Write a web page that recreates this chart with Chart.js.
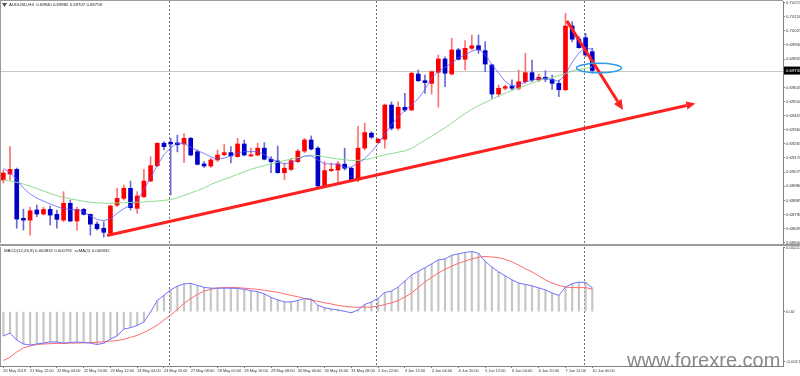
<!DOCTYPE html>
<html>
<head>
<meta charset="utf-8">
<title>AUDUSD H4</title>
<script src="https://cdn.jsdelivr.net/npm/chart.js"></script>
<style>
	html, body { margin: 0; padding: 0; background: #fff; }
	#wrap { position: relative; width: 800px; height: 376px; overflow: hidden; background: #fff; }
	#chart-price { position: absolute; left: 0; top: 0; }
	#sep { position: absolute; left: 0; top: 244px; width: 800px; height: 2px; background: #9c9c9c; }
	#chart-macd { position: absolute; left: 0; top: 246px; }
	#mark { position: absolute; left: 627px; top: 350px; font: 20px/20px 'Liberation Sans', Arial, sans-serif; color: rgba(115, 115, 115, 0.85); white-space: nowrap; }
</style>
</head>
<body>
<div id="wrap">
	<canvas id="chart-price" width="800" height="244"></canvas>
	<div id="sep"></div>
	<canvas id="chart-macd" width="800" height="130"></canvas>
	<div id="mark">www.forexre.com</div>
</div>
<script>
// AUDUSD H4, one entry per bar (20 May 2019 20:00 ... 10 Jun 2019 00:00)
const opens = [
	0.69022, 0.69062, 0.69093, 0.68764, 0.68752, 0.68820, 0.68793, 0.68824, 0.68791, 0.68752,
	0.68865, 0.68746, 0.68824, 0.68791, 0.68725, 0.68697, 0.68663, 0.68853, 0.68898, 0.68966,
	0.68831, 0.68909, 0.69015, 0.69118, 0.69269, 0.69275, 0.69271, 0.69264, 0.69302, 0.69212,
	0.69130, 0.69116, 0.69157, 0.69192, 0.69206, 0.69179, 0.69264, 0.69184, 0.69190, 0.69236,
	0.69162, 0.69150, 0.69071, 0.69093, 0.69145, 0.69216, 0.69291, 0.69236, 0.68977, 0.69085,
	0.69089, 0.69128, 0.69101, 0.69022, 0.69236, 0.69337, 0.69273, 0.69296, 0.69526, 0.69370,
	0.69511, 0.69493, 0.69735, 0.69690, 0.69672, 0.69746, 0.69836, 0.69735, 0.69897, 0.69834,
	0.69908, 0.69925, 0.69892, 0.69796, 0.69600, 0.69639, 0.69654, 0.69639, 0.69683, 0.69744,
	0.69695, 0.69713, 0.69699, 0.69672, 0.69629, 0.70058, 0.69969, 0.69979, 0.69885,
];
const highs = [
	0.69089, 0.69246, 0.69102, 0.68826, 0.68840, 0.68853, 0.68838, 0.68847, 0.68820, 0.68943,
	0.68887, 0.68838, 0.68831, 0.68793, 0.68741, 0.68741, 0.68853, 0.68968, 0.68988, 0.69015,
	0.68943, 0.69093, 0.69179, 0.69273, 0.69280, 0.69302, 0.69324, 0.69334, 0.69309, 0.69224,
	0.69145, 0.69168, 0.69224, 0.69262, 0.69246, 0.69302, 0.69291, 0.69236, 0.69269, 0.69273,
	0.69179, 0.69250, 0.69136, 0.69168, 0.69228, 0.69302, 0.69318, 0.69246, 0.69145, 0.69136,
	0.69145, 0.69236, 0.69107, 0.69383, 0.69404, 0.69347, 0.69302, 0.69533, 0.69548, 0.69548,
	0.69605, 0.69745, 0.69762, 0.69728, 0.69755, 0.69863, 0.69851, 0.69975, 0.69908, 0.69959,
	0.69997, 0.69997, 0.69952, 0.69800, 0.69661, 0.69661, 0.69695, 0.69762, 0.69874, 0.69829,
	0.69735, 0.69757, 0.69728, 0.69695, 0.70143, 0.70087, 0.69986, 0.70009, 0.69908,
];
const lows = [
	0.69001, 0.69022, 0.68697, 0.68685, 0.68651, 0.68775, 0.68786, 0.68719, 0.68697, 0.68741,
	0.68741, 0.68685, 0.68786, 0.68651, 0.68685, 0.68637, 0.68651, 0.68842, 0.68887, 0.68820,
	0.68797, 0.68905, 0.69010, 0.69111, 0.69224, 0.68921, 0.69211, 0.69138, 0.69184, 0.69123,
	0.69107, 0.69107, 0.69145, 0.69184, 0.69136, 0.69175, 0.69184, 0.69179, 0.69184, 0.69157,
	0.69071, 0.69067, 0.69024, 0.69085, 0.69138, 0.69206, 0.69224, 0.68973, 0.68973, 0.69078,
	0.69006, 0.69089, 0.69010, 0.69010, 0.69224, 0.69302, 0.69269, 0.69236, 0.69358, 0.69358,
	0.69481, 0.69488, 0.69683, 0.69605, 0.69600, 0.69511, 0.69650, 0.69728, 0.69829, 0.69762,
	0.69897, 0.69874, 0.69750, 0.69571, 0.69582, 0.69627, 0.69627, 0.69627, 0.69672, 0.69683,
	0.69683, 0.69683, 0.69632, 0.69582, 0.69623, 0.69952, 0.69908, 0.69851, 0.69740,
];
const closes = [
	0.69069, 0.69093, 0.68759, 0.68752, 0.68815, 0.68793, 0.68824, 0.68786, 0.68757, 0.68865,
	0.68746, 0.68824, 0.68791, 0.68725, 0.68694, 0.68670, 0.68847, 0.68898, 0.68966, 0.68836,
	0.68914, 0.69015, 0.69118, 0.69269, 0.69246, 0.69264, 0.69259, 0.69302, 0.69190, 0.69127,
	0.69116, 0.69157, 0.69190, 0.69206, 0.69184, 0.69264, 0.69190, 0.69190, 0.69236, 0.69162,
	0.69145, 0.69071, 0.69101, 0.69152, 0.69216, 0.69291, 0.69230, 0.68982, 0.69085, 0.69093,
	0.69130, 0.69101, 0.69022, 0.69236, 0.69341, 0.69310, 0.69296, 0.69526, 0.69370, 0.69511,
	0.69493, 0.69740, 0.69690, 0.69677, 0.69750, 0.69836, 0.69740, 0.69897, 0.69834, 0.69908,
	0.69925, 0.69897, 0.69802, 0.69600, 0.69639, 0.69650, 0.69639, 0.69683, 0.69744, 0.69695,
	0.69713, 0.69699, 0.69672, 0.69629, 0.70058, 0.69969, 0.69912, 0.69863, 0.69758,
];

// moving averages as drawn on the chart
const fastMA = [
	0.69099, 0.69072, 0.69025, 0.68968, 0.68927, 0.68900, 0.68880, 0.68861, 0.68843, 0.68828,
	0.68824, 0.68822, 0.68808, 0.68779, 0.68756, 0.68748, 0.68761, 0.68798, 0.68829, 0.68851,
	0.68887, 0.68955, 0.69039, 0.69120, 0.69192, 0.69238, 0.69270, 0.69268, 0.69242, 0.69220,
	0.69200, 0.69177, 0.69164, 0.69169, 0.69184, 0.69204, 0.69213, 0.69213, 0.69213, 0.69193,
	0.69163, 0.69141, 0.69131, 0.69139, 0.69159, 0.69184, 0.69184, 0.69157, 0.69130, 0.69130,
	0.69127, 0.69107, 0.69109, 0.69136, 0.69166, 0.69210, 0.69266, 0.69331, 0.69394, 0.69446,
	0.69489, 0.69528, 0.69570, 0.69631, 0.69708, 0.69753, 0.69779, 0.69809, 0.69843, 0.69864,
	0.69888, 0.69904, 0.69866, 0.69799, 0.69742, 0.69684, 0.69654, 0.69659, 0.69681, 0.69693,
	0.69704, 0.69706, 0.69697, 0.69685, 0.69735, 0.69814, 0.69876, 0.69913, 0.69900,
];
const slowMA = [
	0.69023, 0.69015, 0.69006, 0.68995, 0.68981, 0.68964, 0.68948, 0.68931, 0.68916, 0.68905,
	0.68895, 0.68887, 0.68879, 0.68872, 0.68868, 0.68866, 0.68865, 0.68867, 0.68869, 0.68871,
	0.68872, 0.68874, 0.68878, 0.68880, 0.68885, 0.68890, 0.68902, 0.68919, 0.68934, 0.68951,
	0.68968, 0.68992, 0.69010, 0.69026, 0.69042, 0.69060, 0.69077, 0.69094, 0.69107, 0.69118,
	0.69130, 0.69141, 0.69152, 0.69163, 0.69173, 0.69181, 0.69188, 0.69186, 0.69177, 0.69170,
	0.69163, 0.69158, 0.69153, 0.69154, 0.69158, 0.69166, 0.69181, 0.69192, 0.69199, 0.69209,
	0.69218, 0.69235, 0.69262, 0.69289, 0.69317, 0.69345, 0.69373, 0.69405, 0.69439, 0.69469,
	0.69498, 0.69522, 0.69543, 0.69565, 0.69588, 0.69607, 0.69624, 0.69640, 0.69658, 0.69674,
	0.69691, 0.69702, 0.69711, 0.69724, 0.69737, 0.69757, 0.69766, 0.69772, 0.69784,
];

// MACD(12,26,9) panel
const macdMain = [
	-0.00085, -0.00075, -0.00099, -0.00113, -0.00117, -0.00113, -0.00110, -0.00106, -0.00106, -0.00110,
	-0.00108, -0.00106, -0.00108, -0.00110, -0.00115, -0.00110, -0.00096, -0.00085, -0.00061, -0.00056,
	-0.00048, -0.00036, -0.00001, 0.00039, 0.00057, 0.00076, 0.00089, 0.00097, 0.00099, 0.00092,
	0.00085, 0.00082, 0.00082, 0.00082, 0.00082, 0.00081, 0.00078, 0.00073, 0.00070, 0.00062,
	0.00050, 0.00041, 0.00034, 0.00034, 0.00039, 0.00046, 0.00044, 0.00022, 0.00014, 0.00009,
	0.00006, 0.00001, -0.00004, 0.00006, 0.00025, 0.00034, 0.00047, 0.00067, 0.00072, 0.00086,
	0.00107, 0.00128, 0.00141, 0.00153, 0.00167, 0.00181, 0.00184, 0.00197, 0.00202, 0.00207,
	0.00210, 0.00204, 0.00176, 0.00156, 0.00139, 0.00125, 0.00111, 0.00100, 0.00095, 0.00090,
	0.00083, 0.00076, 0.00065, 0.00057, 0.00086, 0.00098, 0.00103, 0.00102, 0.000832,
];
const macdSignal = [
	-0.00171, -0.00159, -0.00141, -0.00127, -0.00120, -0.00115, -0.00113, -0.00112, -0.00111, -0.00111,
	-0.00110, -0.00110, -0.00109, -0.00108, -0.00107, -0.00105, -0.00103, -0.00101, -0.00097, -0.00090,
	-0.00083, -0.00073, -0.00061, -0.00047, -0.00029, -0.00012, 0.00008, 0.00029, 0.00046, 0.00060,
	0.00072, 0.00078, 0.00083, 0.00084, 0.00084, 0.00084, 0.00082, 0.00080, 0.00078, 0.00075,
	0.00071, 0.00068, 0.00062, 0.00057, 0.00052, 0.00046, 0.00041, 0.00036, 0.00031, 0.00027,
	0.00022, 0.00019, 0.00016, 0.00015, 0.00016, 0.00016, 0.00019, 0.00025, 0.00031, 0.00039,
	0.00051, 0.00065, 0.00085, 0.00104, 0.00120, 0.00135, 0.00148, 0.00159, 0.00169, 0.00177,
	0.00184, 0.00190, 0.00193, 0.00191, 0.00189, 0.00183, 0.00174, 0.00163, 0.00150, 0.00139,
	0.00125, 0.00111, 0.00100, 0.00092, 0.00086, 0.00084, 0.00084, 0.00084, 0.000791,
];

// axes
const priceTicks = [
	0.68600, 0.68695, 0.68790, 0.68885, 0.68980, 0.69075, 0.69170, 0.69265, 0.69360,
	0.69455, 0.69550, 0.69645, 0.69835, 0.69930, 0.70025, 0.70120, 0.70215,
];
const macdTicks = [0.002246, 0, -0.00176];
const macdTickLabels = ['0.002246', '0.00', '-0.001760'];
const timeTicks = [
	'20 May 2019', '21 May 12:00', '22 May 04:00', '22 May 20:00', '23 May 12:00', '24 May 04:00',
	'24 May 20:00', '27 May 08:00', '28 May 00:00', '28 May 16:00', '29 May 08:00', '30 May 00:00',
	'30 May 16:00', '31 May 08:00', '2 Jun 22:00', '3 Jun 12:00', '4 Jun 04:00', '4 Jun 20:00',
	'5 Jun 12:00', '6 Jun 04:00', '6 Jun 20:00', '7 Jun 12:00', '10 Jun 00:00',
];
const weekStarts = [25, 56, 87]; // bar index of the period separators
const lastPrice = 0.69758;

// hand drawn marks: [bar index, price]
const trendLine = [[15.5, 0.68648], [103.4, 0.69536]];
const dropArrow = [[84.2, 0.70092], [92.6, 0.69493]];
const ringMark = [89.0, 0.69775, 3.36, 0.00032]; // centre bar, centre price, half width (bars), half height (price)

const symbolHeader = 'AUDUSD,H4  0.69940 0.69982 0.69707 0.69758';
const macdHeader = 'MACD(12,26,9) 0.000832 0.000791  ssMA(1) 0.000832';

const slotCount = 117; // visible bar slots incl. empty space on the right
const slots = Array.from({ length: slotCount }, (_, i) => i);
const fontFamily = "'Liberation Sans', Arial, sans-serif";
const tinyFont = { family: fontFamily, size: 4.3 };
const timeFont = { family: fontFamily, size: 3.9 };
const upColor = '#ff0000';
const downColor = '#0000c8';

function drawSeparators(ctx, area, x) {
	ctx.save();
	ctx.strokeStyle = '#707070';
	ctx.lineWidth = 1;
	ctx.setLineDash([2, 2]);
	weekStarts.forEach((i) => {
		const px = Math.round(x.getPixelForValue(i)) - 1.5;
		ctx.beginPath();
		ctx.moveTo(px, area.top);
		ctx.lineTo(px, area.bottom);
		ctx.stroke();
	});
	ctx.restore();
}

function drawArrow(ctx, x, y, pts, head) {
	const x1 = x.getPixelForValue(pts[0][0]);
	const y1 = y.getPixelForValue(pts[0][1]);
	const x2 = x.getPixelForValue(pts[1][0]);
	const y2 = y.getPixelForValue(pts[1][1]);
	const ang = Math.atan2(y2 - y1, x2 - x1);
	const bx = x2 - Math.cos(ang) * head;
	const by = y2 - Math.sin(ang) * head;
	const hw = head * 0.45;
	ctx.strokeStyle = '#ff2020';
	ctx.fillStyle = '#ff2020';
	ctx.lineWidth = 3;
	ctx.beginPath();
	ctx.moveTo(x1, y1);
	ctx.lineTo(bx, by);
	ctx.stroke();
	ctx.beginPath();
	ctx.moveTo(x2, y2);
	ctx.lineTo(bx + Math.sin(ang) * hw, by - Math.cos(ang) * hw);
	ctx.lineTo(bx - Math.sin(ang) * hw, by + Math.cos(ang) * hw);
	ctx.closePath();
	ctx.fill();
}

function drawFrame(ctx, area, withTop) {
	ctx.fillStyle = '#9c9c9c';
	ctx.fillRect(0, area.top, 1, area.bottom - area.top);
	if (withTop) ctx.fillRect(0, 0, area.right, 1);
}

// For price panel
!(function () {
	const ctx = document.getElementById('chart-price');

	const priceDecor = {
		id: 'priceDecor',
		beforeDatasetsDraw(chart) {
			const { ctx, chartArea, scales } = chart;
			const py = Math.round(scales.y.getPixelForValue(lastPrice)) + 0.5;
			ctx.save();
			ctx.strokeStyle = '#c8c8c8';
			ctx.lineWidth = 1;
			ctx.beginPath();
			ctx.moveTo(chartArea.left, py);
			ctx.lineTo(chartArea.right, py);
			ctx.stroke();
			ctx.restore();
			drawSeparators(ctx, chartArea, scales.x);
		},
		afterDatasetsDraw(chart) {
			const { ctx, scales } = chart;
			const x = scales.x;
			const y = scales.y;
			ctx.save();
			drawArrow(ctx, x, y, trendLine, 9);
			drawArrow(ctx, x, y, dropArrow, 10);
			// blue ring round the last bars
			const cx = x.getPixelForValue(ringMark[0]);
			const cy = y.getPixelForValue(ringMark[1]);
			const rx = x.getPixelForValue(ringMark[0] + ringMark[2]) - cx;
			const ry = cy - y.getPixelForValue(ringMark[1] + ringMark[3]);
			ctx.strokeStyle = '#2f9ae6';
			ctx.lineWidth = 1.5;
			ctx.beginPath();
			ctx.ellipse(cx, cy, rx, ry, 0, 0, Math.PI * 2);
			ctx.stroke();
			ctx.restore();
		},
		afterDraw(chart) {
			const { ctx, chartArea, scales } = chart;
			ctx.save();
			drawFrame(ctx, chartArea, true);
			// current price tag
			const py = scales.y.getPixelForValue(lastPrice);
			ctx.fillStyle = '#000';
			ctx.fillRect(chartArea.right + 1, py - 4, 17, 8);
			ctx.fillStyle = '#fff';
			ctx.font = '4.3px ' + fontFamily;
			ctx.textBaseline = 'middle';
			ctx.fillText(lastPrice.toFixed(5), chartArea.right + 3, py);
			// symbol line
			ctx.fillStyle = '#505050';
			ctx.beginPath();
			ctx.moveTo(2, 3);
			ctx.lineTo(7, 3);
			ctx.lineTo(4.5, 7);
			ctx.closePath();
			ctx.fill();
			ctx.fillStyle = '#222';
			ctx.fillText(symbolHeader, 9, 5);
			ctx.restore();
		},
	};

	new Chart(ctx, {
		type: 'bar',
		data: {
			labels: slots,
			datasets: [
				{
					type: 'line',
					data: fastMA,
					borderColor: 'rgba(90, 90, 255, 0.75)',
					borderWidth: 1,
					pointRadius: 0,
					order: 0,
				},
				{
					type: 'line',
					data: slowMA,
					borderColor: '#8fdc8f',
					borderWidth: 1,
					pointRadius: 0,
					order: 0,
				},
				{
					// candle bodies
					data: opens.map((o, i) => [Math.min(o, closes[i]), Math.max(o, closes[i])]),
					backgroundColor: opens.map((o, i) => (closes[i] >= o ? upColor : downColor)),
					barThickness: 4,
					minBarLength: 1,
					grouped: false,
					order: 1,
				},
				{
					// wicks
					data: lows.map((l, i) => [l, highs[i]]),
					backgroundColor: opens.map((o, i) => (closes[i] >= o ? '#ff7070' : '#6a6ad8')),
					barThickness: 1,
					grouped: false,
					order: 2,
				},
			],
		},
		options: {
			responsive: false,
			animation: false,
			layout: { padding: { top: 1, bottom: 1, left: 0, right: 0 } },
			plugins: {
				legend: { display: false },
				tooltip: { enabled: false },
			},
			scales: {
				x: {
					display: false,
					offset: true,
				},
				y: {
					position: 'right',
					min: 0.68598,
					max: 0.70226,
					afterBuildTicks: (s) => {
						s.ticks = priceTicks.map((v) => ({ value: v }));
					},
					afterFit: (s) => {
						s.width = 17;
						s.paddingTop = 0;
						s.paddingBottom = 0;
					},
					ticks: {
						autoSkip: false,
						font: tinyFont,
						color: '#333',
						padding: 1,
						callback: (v) => v.toFixed(5),
					},
					grid: { drawOnChartArea: false, tickLength: 2, color: '#808080' },
					border: { color: '#808080' },
				},
			},
		},
		plugins: [priceDecor],
	});
})();

// For MACD panel
!(function () {
	const ctx = document.getElementById('chart-macd');

	const macdDecor = {
		id: 'macdDecor',
		beforeDatasetsDraw(chart) {
			drawSeparators(chart.ctx, chart.chartArea, chart.scales.x);
		},
		afterDraw(chart) {
			const { ctx, chartArea } = chart;
			ctx.save();
			drawFrame(ctx, chartArea, false);
			ctx.fillStyle = '#222';
			ctx.font = '4.3px ' + fontFamily;
			ctx.textBaseline = 'middle';
			ctx.fillText(macdHeader, 4, 4.5);
			ctx.restore();
		},
	};

	new Chart(ctx, {
		type: 'bar',
		data: {
			labels: slots,
			datasets: [
				{
					type: 'line',
					data: macdMain,
					borderColor: '#7272ff',
					borderWidth: 1,
					pointRadius: 0,
					order: 0,
				},
				{
					type: 'line',
					data: macdSignal,
					borderColor: '#ff6a6a',
					borderWidth: 1,
					pointRadius: 0,
					order: 0,
				},
				{
					data: macdMain,
					backgroundColor: '#c6c6c6',
					barThickness: 1.5,
					grouped: false,
					order: 1,
				},
			],
		},
		options: {
			responsive: false,
			animation: false,
			layout: { padding: { top: 1, bottom: 0, left: 0, right: 0 } },
			plugins: {
				legend: { display: false },
				tooltip: { enabled: false },
			},
			scales: {
				x: {
					offset: true,
					afterBuildTicks: (s) => {
						s.ticks = timeTicks.map((_, k) => ({ value: k * 4 }));
					},
					afterFit: (s) => {
						s.height = 10;
						s.paddingLeft = 0;
						s.paddingRight = 0;
					},
					ticks: {
						autoSkip: false,
						maxRotation: 0,
						minRotation: 0,
						align: 'start',
						padding: 1,
						font: timeFont,
						color: '#333',
						callback: (v, i) => timeTicks[i],
					},
					grid: { drawOnChartArea: false, offset: false, tickLength: 2, color: '#808080' },
					border: { color: '#808080' },
				},
				y: {
					position: 'right',
					min: -0.0019,
					max: 0.00226,
					afterBuildTicks: (s) => {
						s.ticks = macdTicks.map((v) => ({ value: v }));
					},
					afterFit: (s) => {
						s.width = 17;
						s.paddingTop = 0;
						s.paddingBottom = 0;
					},
					ticks: {
						autoSkip: false,
						font: tinyFont,
						color: '#333',
						padding: 1,
						callback: (v, i) => macdTickLabels[i],
					},
					grid: { drawOnChartArea: false, tickLength: 2, color: '#808080' },
					border: { color: '#808080' },
				},
			},
		},
		plugins: [macdDecor],
	});
})();
</script>
</body>
</html>
